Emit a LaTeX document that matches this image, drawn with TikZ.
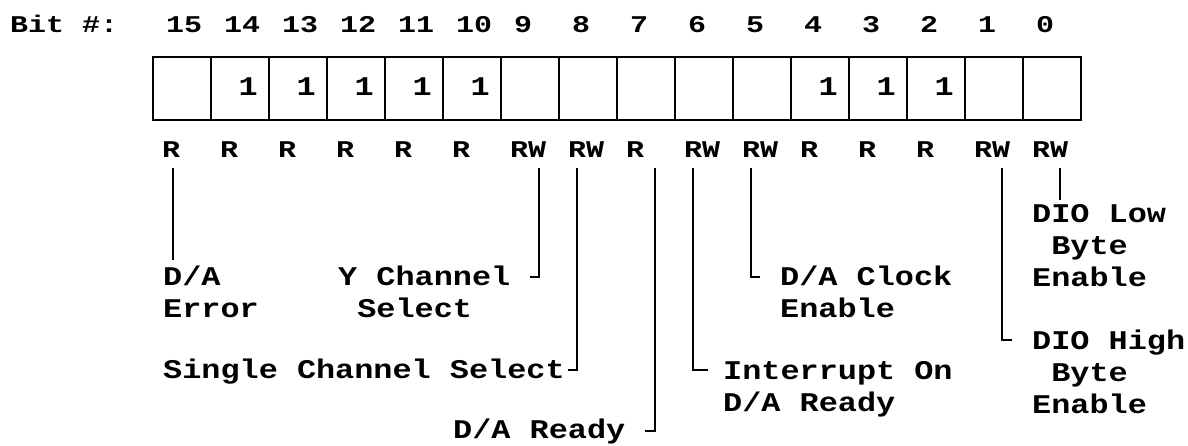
\documentclass[tikz,border=0pt]{standalone}
\usepackage{fontspec}
\newfontfamily\labfnt{Liberation Mono}[FakeStretch=1.18]
\newfontfamily\topfnt{Liberation Mono}[FakeStretch=1.25]
\begin{document}
\begin{tikzpicture}[x=1pt,y=-1pt,
  lab/.style={font=\labfnt\bfseries\fontsize{27}{32}\selectfont, inner sep=0pt, anchor=base west, align=left},
  toplab/.style={font=\topfnt\bfseries\fontsize{24}{28}\selectfont, inner sep=0pt, anchor=base west},
  cell/.style={draw, line width=1.5pt, minimum width=58pt, minimum height=63pt, inner sep=0pt, outer sep=0pt, anchor=north west},
  conn/.style={line width=1.3pt}]
\useasboundingbox (0,0) rectangle (1188,445);

% header
\node[toplab] (bitlab) at (10,32) {Bit \#:};
\foreach \i in {0,...,15}{
  \pgfmathtruncatemacro\b{15-\i}
  \node[cell] (c\b) at ({153+58*\i},57) {};
  \node[toplab] (n\b) at ({153+58*\i+13},32) {\b};
}
\draw[line width=2pt] (c15.north west) rectangle (c0.south east);

% fixed ones
\foreach \b in {14,13,12,11,10,4,3,2}{
  \node[lab, anchor=base east] (v\b) at ({153+58*(15-\b)+47},95) {1};
}

% access row
\foreach \b/\t in {15/R,14/R,13/R,12/R,11/R,10/R,9/RW,8/RW,7/R,6/RW,5/RW,4/R,3/R,2/R,1/RW,0/RW}{
  \node[toplab] (r\b) at ({153+58*(15-\b)+9},157) {\t};
}

% descriptions (anchor = baseline of the last line)
\node[lab] (l15) at (163,317) {D/A\\Error};
\node[lab] (l9)  at (338,317) {Y Channel\\\phantom{Y}Select};
\node[lab] (l8)  at (163,378) {Single Channel Select};
\node[lab] (l7)  at (453,438) {D/A Ready};
\node[lab] (l6)  at (723,411) {Interrupt On\\D/A Ready};
\node[lab] (l5)  at (780,317) {D/A Clock\\Enable};
\node[lab] (l1)  at (1032,413) {DIO High\\\phantom{D}Byte\\Enable};
\node[lab] (l0)  at (1032,286) {DIO Low\\\phantom{D}Byte\\Enable};

% connector end points
\coordinate (s15) at (173,168); \coordinate (e15) at (173,260);
\coordinate (s9)  at (539,168); \coordinate (e9)  at (530,277);
\coordinate (s8)  at (577,168); \coordinate (e8)  at (568,370);
\coordinate (s7)  at (655,168); \coordinate (e7)  at (645,431);
\coordinate (s6)  at (693,168); \coordinate (e6)  at (708,370);
\coordinate (s5)  at (751,168); \coordinate (e5)  at (760,277);
\coordinate (s1)  at (1002,168); \coordinate (e1) at (1012,340);
\coordinate (s0)  at (1060,168); \coordinate (e0) at (1060,200);

\draw[conn] (s15) -- (e15);
\draw[conn] (s9) |- (e9);
\draw[conn] (s8) |- (e8);
\draw[conn] (s7) |- (e7);
\draw[conn] (s6) |- (e6);
\draw[conn] (s5) |- (e5);
\draw[conn] (s1) |- (e1);
\draw[conn] (s0) -- (e0);
\end{tikzpicture}
\end{document}
